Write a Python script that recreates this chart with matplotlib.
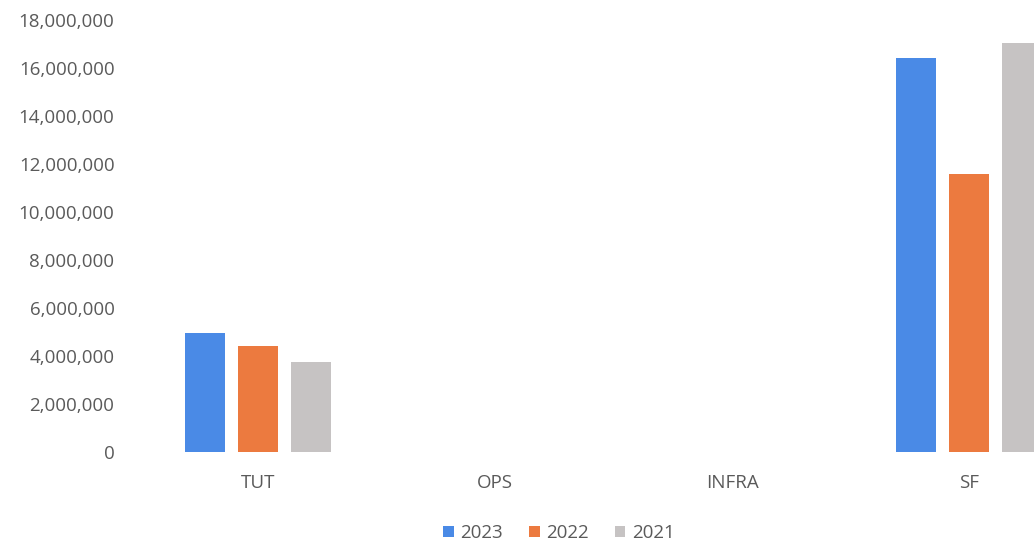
import matplotlib.pyplot as plt
import numpy as np
from matplotlib.ticker import FuncFormatter

categories = ['TUT', 'OPS', 'INFRA', 'SF']
years = ['2023', '2022', '2021']
vals_2023 = [4960000, 0, 0, 16420000]
vals_2022 = [4420000, 0, 0, 11580000]
vals_2021 = [3750000, 0, 0, 17040000]
colors = ['#4a8ae6', '#ec7a3f', '#c6c3c3']

plt.rcParams['font.family'] = ['Open Sans', 'DejaVu Sans']
text_col = '#5a5a5a'

fig = plt.figure(figsize=(10.34, 5.44), dpi=100)
# the plot area runs past the right edge, so the last bar gets cut off
ax = fig.add_axes([139.5 / 1034, 92 / 544, 948 / 1034, 432 / 544])

x = np.arange(len(categories))
width = 0.169
step = 0.222
series = [vals_2023, vals_2022, vals_2021]
for i, (yr, vals) in enumerate(zip(years, series)):
    ax.bar(x + (i - 1) * step, vals, width, color=colors[i], label=yr)

ax.set_xlim(-0.5, 3.5)
ax.set_ylim(0, 18000000)
ax.set_yticks(np.arange(0, 18000001, 2000000))
ax.yaxis.set_major_formatter(FuncFormatter(lambda v, p: f'{int(v):,}'))
ax.set_xticks(x)
ax.set_xticklabels(categories)

for s in ax.spines.values():
    s.set_visible(False)
ax.tick_params(axis='both', length=0, colors=text_col, labelsize=13.5)
ax.tick_params(axis='y', pad=18)
ax.tick_params(axis='x', pad=16)

leg = fig.legend(loc='center', bbox_to_anchor=(559 / 1034, 11 / 544), ncol=3,
                 frameon=False, fontsize=13.5, handlelength=0.55, handleheight=0.55,
                 handletextpad=0.35, columnspacing=1.4)
for t in leg.get_texts():
    t.set_color(text_col)

fig.savefig('out.png', dpi=100)
